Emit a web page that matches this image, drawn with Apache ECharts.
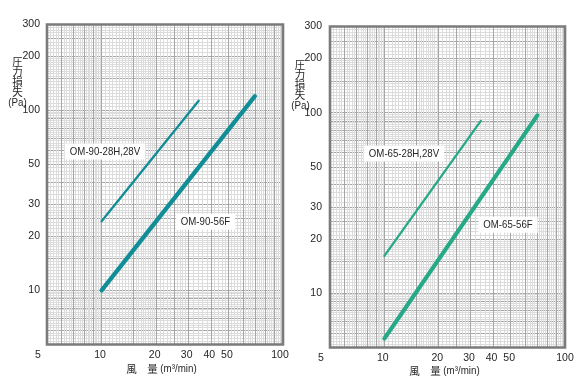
<!DOCTYPE html>
<html><head><meta charset="utf-8">
<script src="https://cdn.jsdelivr.net/npm/echarts@6/dist/echarts.min.js"></script>
<style>html,body{margin:0;padding:0;background:#fff}#c{width:580px;height:383px}</style>
</head><body><div id="c"></div>
<script>
// ---- tick labels ----
const xTickLabels = [5, 10, 20, 30, 40, 50, 100];
const yTickLabels = [10, 20, 30, 50, 100, 200, 300];

// ---- left chart (OM-90) : flow m3/min vs pressure loss Pa ----
const om90_28_flow = [10, 34.3];
const om90_28_loss = [24.2, 113];
const om90_56_flow = [10, 70];
const om90_56_loss = [10, 120];

// ---- right chart (OM-65) ----
const om65_28_flow = [10, 34.2];
const om65_28_loss = [16.1, 90];
const om65_56_flow = [10, 70.3];
const om65_56_loss = [5.6, 96.6];

const seriesNames = ['OM-90-28H,28V', 'OM-90-56F', 'OM-65-28H,28V', 'OM-65-56F'];
const xTitleCJK = '風\u3000量';
const xTitleUnit = '(m³/min)';
const yTitleCJK = ['圧', '力', '損', '失'];
const yTitleUnit = '(Pa)';

const NUM_FONT = "'Liberation Sans Narrow','Liberation Sans',Arial,sans-serif";
const CJK_FONT = "'Noto Sans CJK JP','Noto Sans CJK SC',sans-serif";
const TXT = '#262626';

// log-paper rulings (style only)
function ruling(min, max, ranges) {
  const out = [];
  for (let d = 1; d <= 1000; d *= 10) {
    for (const [a, b, s] of ranges) {
      const n = Math.round((b - a) / s);
      for (let i = 0; i < n; i++) {
        const v = +((a + i * s) * d).toPrecision(6);
        if (v > min + 1e-9 && v < max - 1e-9) out.push(v);
      }
    }
  }
  return out;
}
const fineRanges = [[1, 2, 0.05], [2, 3, 0.1], [3, 10, 0.2]];
const majorRanges = [[1, 3, 0.5], [3, 10, 1]];

const X_MIN = 5, X_MAX = 100, Y_MIN = 5, Y_MAX = 300;
const fineX = ruling(X_MIN, X_MAX, fineRanges);
const majorX = ruling(X_MIN, X_MAX, majorRanges);
const fineY = ruling(Y_MIN, Y_MAX, fineRanges);
const majorY = ruling(Y_MIN, Y_MAX, majorRanges);

const zip = (a, b) => a.map((v, i) => [v, b[i]]);

const grids = [
  { left: 47, top: 24.5, width: 236, height: 320, minPad: 18, maxPad: 6 },
  { left: 330, top: 26.5, width: 235, height: 321, minPad: 18, maxPad: 0 }
];

const LBL = { color: TXT, fontSize: 10.5, fontFamily: NUM_FONT };
const xAxis = [], yAxis = [];
grids.forEach((g, gi) => {
  xAxis.push({
    type: 'log', logBase: 10, gridIndex: gi, min: X_MIN, max: X_MAX, position: 'bottom', z: 0,
    axisLine: { show: false }, axisTick: { show: false, customValues: fineX },
    axisLabel: { show: false },
    splitLine: { show: true, lineStyle: { color: '#dcdcdc', width: 1 } }
  });
  xAxis.push({
    type: 'log', logBase: 10, gridIndex: gi, min: X_MIN, max: X_MAX, position: 'bottom', z: 0,
    axisLine: { show: false }, axisTick: { show: false, customValues: majorX },
    axisLabel: Object.assign({
      customValues: xTickLabels, margin: 5,
      formatter: v => v === X_MIN ? '{a|' + v + '}' : (v === X_MAX ? '{b|' + v + '}' : '{n|' + v + '}'),
      rich: {
        a: Object.assign({ padding: [0, g.minPad, 0, 0] }, LBL),
        b: Object.assign({ padding: [0, g.maxPad, 0, 0] }, LBL),
        n: Object.assign({ padding: [0, 3, 0, 0] }, LBL)
      }
    }, LBL),
    splitLine: { show: true, lineStyle: { color: '#a6a6a6', width: 1 } }
  });
  yAxis.push({
    type: 'log', logBase: 10, gridIndex: gi, min: Y_MIN, max: Y_MAX, position: 'left', z: 0,
    axisLine: { show: false }, axisTick: { show: false, customValues: fineY },
    axisLabel: { show: false },
    splitLine: { show: true, lineStyle: { color: '#dcdcdc', width: 1 } }
  });
  yAxis.push({
    type: 'log', logBase: 10, gridIndex: gi, min: Y_MIN, max: Y_MAX, position: 'left', z: 0,
    axisLine: { show: false }, axisTick: { show: false, customValues: majorY },
    axisLabel: Object.assign({ customValues: yTickLabels, margin: gi === 0 ? 7 : 8 }, LBL),
    splitLine: { show: true, lineStyle: { color: '#a6a6a6', width: 1 } }
  });
});

const lineColors = ['#108d96', '#108d96', '#26a986', '#26a986'];
const lineData = [
  zip(om90_28_flow, om90_28_loss), zip(om90_56_flow, om90_56_loss),
  zip(om65_28_flow, om65_28_loss), zip(om65_56_flow, om65_56_loss)
];
const series = lineData.map((d, i) => ({
  name: seriesNames[i], type: 'line', data: d,
  xAxisIndex: i < 2 ? 1 : 3, yAxisIndex: i < 2 ? 1 : 3,
  showSymbol: false, silent: true, z: 3,
  lineStyle: { color: lineColors[i], width: i % 2 === 0 ? 2.3 : 4.2, cap: 'round' }
}));

function boxLabel(text, x, y) {
  return {
    type: 'text', x: x, y: y, z: 20, silent: true, scaleX: 0.84,
    style: {
      text: text, fill: TXT, fontSize: 11.5, fontFamily: NUM_FONT,
      align: 'center', verticalAlign: 'middle', backgroundColor: '#fff', padding: [2, 6]
    }
  };
}
function txt(text, x, y, opts, sx) {
  return {
    type: 'text', x: x, y: y, z: 20, silent: true, scaleX: sx || 1,
    style: Object.assign({ text: text, fill: TXT, align: 'center', verticalAlign: 'middle' }, opts)
  };
}

const graphic = [
  boxLabel(seriesNames[0], 105, 151.5),
  boxLabel(seriesNames[1], 205.5, 221.7),
  boxLabel(seriesNames[2], 404, 153.5),
  boxLabel(seriesNames[3], 508, 224.7),
  // left axis titles
  txt(yTitleCJK.join('\n'), 17.5, 77, { fontSize: 11, lineHeight: 10, fontFamily: CJK_FONT }, 0.95),
  txt(yTitleUnit, 17.5, 102.5, { fontSize: 11.5, fontFamily: NUM_FONT }, 0.85),
  txt(xTitleCJK, 142, 369, { fontSize: 10.5, fontFamily: CJK_FONT }),
  txt(xTitleUnit, 178.5, 369, { fontSize: 11.5, fontFamily: NUM_FONT }, 0.85),
  // right axis titles
  txt(yTitleCJK.join('\n'), 300, 80, { fontSize: 11, lineHeight: 10, fontFamily: CJK_FONT }, 0.95),
  txt(yTitleUnit, 300.5, 105.5, { fontSize: 11.5, fontFamily: NUM_FONT }, 0.85),
  txt(xTitleCJK, 425, 371, { fontSize: 10.5, fontFamily: CJK_FONT }),
  txt(xTitleUnit, 461.5, 371, { fontSize: 11.5, fontFamily: NUM_FONT }, 0.85)
];

const chart = echarts.init(document.getElementById('c'), null, { renderer: 'canvas' });
chart.setOption({
  animation: false,
  backgroundColor: '#fff',
  grid: grids.map(g => ({
    left: g.left, top: g.top, width: g.width, height: g.height,
    show: true, z: 1, backgroundColor: 'transparent', borderColor: '#7b7b7b', borderWidth: 2.6
  })),
  xAxis: xAxis,
  yAxis: yAxis,
  series: series,
  graphic: graphic
});
</script>
</body></html>
